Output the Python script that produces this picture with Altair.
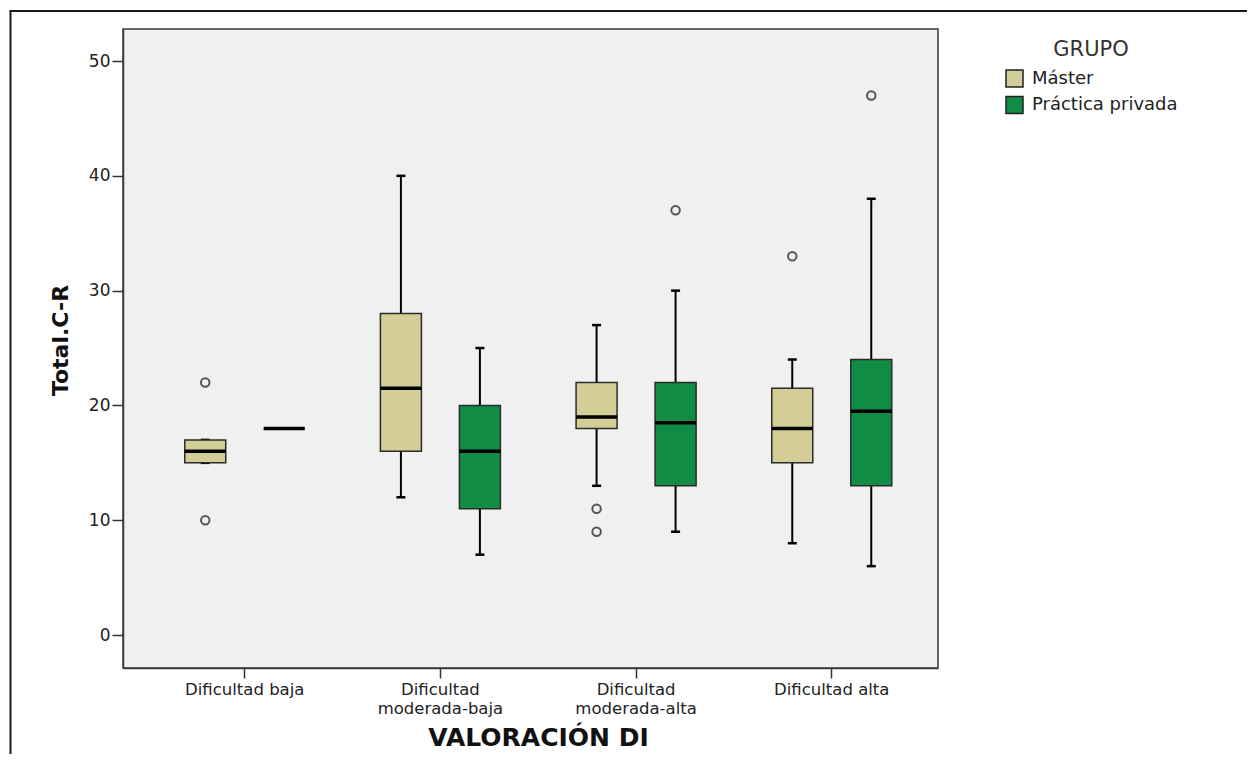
import altair as alt
import pandas as pd

# ---------------- data ----------------
categories = ["Dificultad baja", "Dificultad moderada-baja",
              "Dificultad moderada-alta", "Dificultad alta"]
groups = ["Máster", "Práctica privada"]

# one entry per (category, group), in category order, Máster first
box_category = ["Dificultad baja", "Dificultad baja",
                "Dificultad moderada-baja", "Dificultad moderada-baja",
                "Dificultad moderada-alta", "Dificultad moderada-alta",
                "Dificultad alta", "Dificultad alta"]
box_group = ["Máster", "Práctica privada"] * 4
lower_whisker = [15, 18, 12, 7, 13, 9, 8, 6]
q1 = [15, 18, 16, 11, 18, 13, 15, 13]
median = [16, 18, 21.5, 16, 19, 18.5, 18, 19.5]
q3 = [17, 18, 28, 20, 22, 22, 21.5, 24]
upper_whisker = [17, 18, 40, 25, 27, 30, 24, 38]

outlier_category = ["Dificultad baja", "Dificultad baja",
                    "Dificultad moderada-alta", "Dificultad moderada-alta",
                    "Dificultad moderada-alta", "Dificultad alta", "Dificultad alta"]
outlier_group = ["Máster", "Máster", "Máster", "Máster",
                 "Práctica privada", "Máster", "Práctica privada"]
outlier_value = [22, 10, 11, 9, 37, 33, 47]

y_ticks = [0, 10, 20, 30, 40, 50]
group_colors = ["#D3CE97", "#118C45"]

# ---------------- tables ----------------
box_df = pd.DataFrame({
    "cat": box_category, "grupo": box_group,
    "lw": lower_whisker, "q1": q1, "med": median, "q3": q3, "uw": upper_whisker,
})
out_df = pd.DataFrame({"cat": outlier_category, "grupo": outlier_group,
                       "v": outlier_value})
one_df = pd.DataFrame({"k": [0]})

FONT = "DejaVu Sans"

x_scale = alt.Scale(domain=categories, paddingInner=0, paddingOuter=0.0825, align=0.74)
x_axis = alt.Axis(
    title="VALORACIÓN DI", labelAngle=0, labelFont=FONT, labelFontSize=16.5,
    labelColor="#222", labelPadding=3, labelLineHeight=19,
    labelExpr="indexof(datum.label, 'moderada') >= 0 ? split(datum.label, ' ') : datum.label",
    tickSize=10, tickColor="#333", tickWidth=1.5,
    domainColor="#3a3a3a", domainWidth=1.5,
    titleFont=FONT, titleFontSize=25, titleFontWeight="bold", titleColor="#111",
    titleX=415, titleY=57, titleBaseline="top", titleAlign="center",
)
y_scale = alt.Scale(domain=[-2.87, 52.79], nice=False, zero=False)
y_axis = alt.Axis(
    title="Total.C-R", values=y_ticks, grid=False, labelFont=FONT, labelFontSize=17,
    labelColor="#222", labelPadding=2, tickSize=11, tickColor="#333", tickWidth=1.5,
    domainColor="#3a3a3a", domainWidth=1.5,
    titleFont=FONT, titleFontSize=22, titleFontWeight="bold", titleColor="#111",
    titleX=-63, titleY=311, titleAngle=270, titleAlign="center", titleBaseline="middle",
)
xoff_scale = alt.Scale(domain=groups, paddingInner=0, paddingOuter=0.2386)

X = alt.X("cat:N", scale=x_scale, axis=x_axis, sort=categories)
XO = alt.XOffset("grupo:N", scale=xoff_scale, sort=groups)


def Y(field):
    return alt.Y(field, type="quantitative", scale=y_scale, axis=y_axis)


base = alt.Chart(box_df).encode(x=X, xOffset=XO)

whiskers = base.mark_rule(color="#000", strokeWidth=2).encode(y=Y("lw"), y2="uw:Q")
caps_low = base.mark_tick(size=9, thickness=2.5, color="#000", opacity=1).encode(y=Y("lw"))
caps_high = base.mark_tick(size=9, thickness=2.5, color="#000", opacity=1).encode(y=Y("uw"))
boxes = base.mark_bar(size=41, stroke="#2b2b2b", strokeWidth=1.5, opacity=1).encode(
    y=Y("q1"), y2="q3:Q",
    fill=alt.Fill("grupo:N", scale=alt.Scale(domain=groups, range=group_colors),
                  legend=alt.Legend(
                      title="GRUPO", orient="none", legendX=882, legendY=10,
                      titleFont=FONT, titleFontSize=21, titleFontWeight="normal",
                      titleColor="#333", titleAnchor="middle", titlePadding=9,
                      labelFont=FONT, labelFontSize=18, labelColor="#222",
                      labelOffset=8, symbolType="square", symbolSize=289,
                      symbolStrokeColor="#222", symbolStrokeWidth=1.5,
                      symbolOpacity=1, rowPadding=3.5, padding=0)),
)
medians = base.mark_tick(size=41, thickness=3.5, color="#000", opacity=1).encode(y=Y("med"))

outliers = alt.Chart(out_df).mark_point(
    shape="circle", filled=False, size=72, stroke="#555", strokeWidth=2, opacity=1
).encode(x=X, xOffset=XO, y=Y("v"))

frame_left = alt.Chart(one_df).mark_rule(color="#1a1a1a", strokeWidth=2).encode(
    x=alt.value(-112.5), y=alt.value(-18), y2=alt.value(740))
frame_top = alt.Chart(one_df).mark_rule(color="#1a1a1a", strokeWidth=2).encode(
    x=alt.value(-113.5), x2=alt.value(1130), y=alt.value(-18))

chart = alt.layer(
    whiskers, caps_low, caps_high, boxes, medians, outliers, frame_left, frame_top
).properties(
    width=815, height=639,
    autosize=alt.AutoSizeParams(type="none"),
    padding={"left": 115, "top": 21, "right": 309, "bottom": 86},
    background="white",
).configure_view(
    fill="#EFF0EF", stroke="#3a3a3a", strokeWidth=1.5
)

chart.save("out.html", embed_options={"renderer": "svg", "actions": False})
